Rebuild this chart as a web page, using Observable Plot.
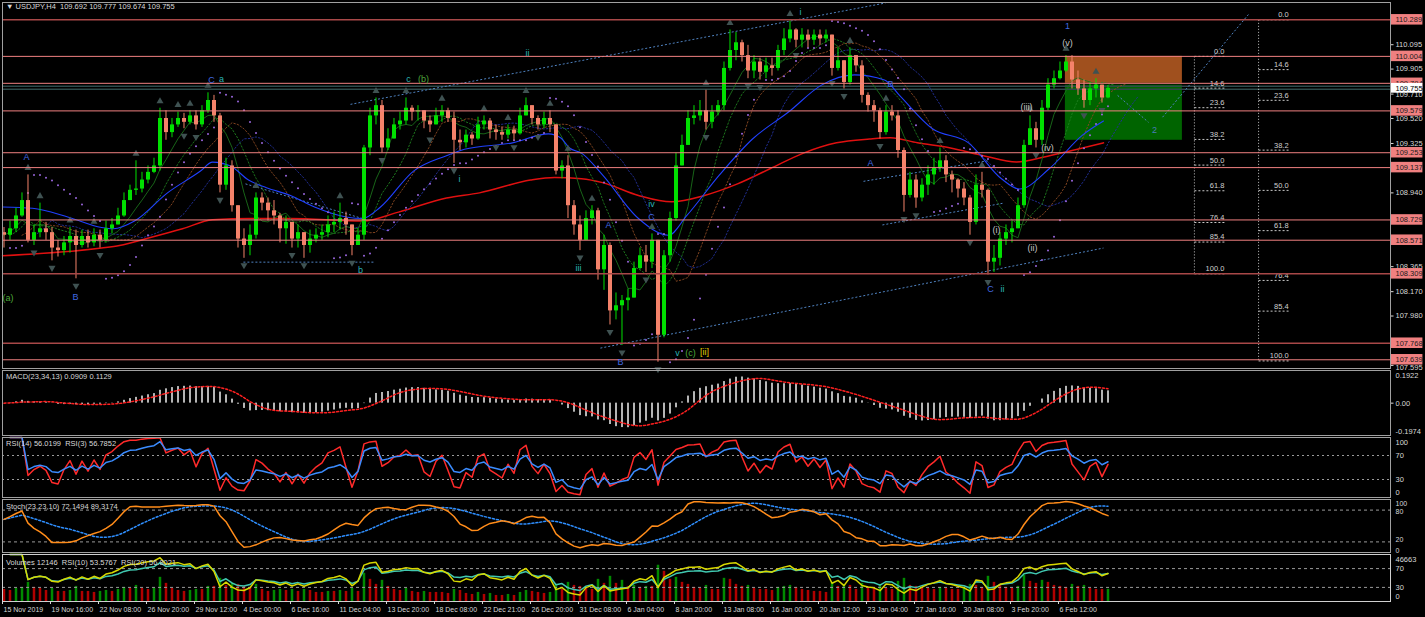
<!DOCTYPE html>
<html>
<head>
<meta charset="utf-8">
<script src="https://cdn.jsdelivr.net/npm/d3@7"></script>
<script src="https://cdn.jsdelivr.net/npm/@observablehq/plot@0.6"></script>
<style>
  html, body { margin:0; padding:0; background:#000; }
  #wrap { position:relative; width:1425px; height:617px; background:#000; overflow:hidden; font-family:"Liberation Sans", Arial, sans-serif; }
  #wrap svg { position:absolute; left:0; }
  .hdr { position:absolute; left:6px; color:#d8d8d8; font-size:7.5px; white-space:pre; line-height:10px; }
</style>
</head>
<body>
<div id="wrap"></div>
<script>
// ---------- DATA (one candle = two H4 bars) ----------
const firstOpen = 108.63;
const close = [
108.61,108.66,108.76,108.88,108.57,108.63,108.66,108.63,108.51,108.49,
108.55,108.60,108.53,108.60,108.55,108.61,108.57,108.66,108.69,108.76,
108.88,108.96,108.97,109.04,109.10,109.15,109.52,109.41,109.47,109.52,
109.49,109.54,109.47,109.58,109.66,109.54,109.00,109.15,108.84,108.58,
108.53,108.61,108.90,108.86,108.80,108.76,108.66,108.71,108.58,108.63,
108.53,108.58,108.61,108.63,108.69,108.71,108.74,108.69,108.53,108.61,
109.29,109.54,109.62,109.29,109.36,109.47,109.50,109.60,109.57,109.58,
109.50,109.47,109.54,109.58,109.52,109.35,109.33,109.39,109.36,109.47,
109.50,109.43,109.41,109.39,109.43,109.40,109.54,109.62,109.52,109.47,
109.52,109.47,109.11,109.15,108.84,108.69,108.57,108.74,108.80,108.34,
108.53,108.02,108.06,108.10,108.12,108.35,108.45,108.40,108.57,107.83,
108.45,108.74,109.15,109.31,109.52,109.54,109.58,109.49,109.57,109.62,
109.91,110.05,110.11,110.01,109.89,109.96,109.88,109.93,109.91,110.05,
110.14,110.21,110.13,110.17,110.13,110.17,110.14,110.17,109.91,109.97,
109.80,110.01,109.93,109.70,109.62,109.58,109.41,109.57,109.54,109.27,
108.92,109.04,108.90,109.00,109.08,109.13,109.19,109.08,109.04,108.97,
108.90,108.71,109.00,108.96,108.40,108.43,108.58,108.63,108.66,108.84,
109.31,109.44,109.35,109.60,109.78,109.83,109.89,109.96,109.82,109.75,
109.66,109.75,109.78,109.68,109.755];
const high = [
108.67,108.72,108.82,108.94,109.08,108.69,108.86,108.71,108.67,108.57,
108.60,108.67,108.65,108.65,108.65,108.66,108.65,108.72,108.74,108.82,
108.94,109.00,109.19,109.10,109.15,109.21,109.60,109.58,109.52,109.57,
109.56,109.58,109.58,109.62,109.72,109.70,109.56,109.21,109.19,108.84,
108.66,108.69,108.94,108.94,108.90,108.88,108.78,108.76,108.71,108.69,
108.63,108.65,108.66,108.69,108.76,108.79,108.86,108.79,108.69,108.66,
109.31,109.60,109.68,109.66,109.44,109.52,109.57,109.68,109.62,109.62,
109.57,109.54,109.60,109.62,109.60,109.57,109.43,109.43,109.41,109.53,
109.54,109.52,109.47,109.45,109.47,109.46,109.60,109.68,109.62,109.54,
109.57,109.58,109.47,109.19,109.23,108.88,108.76,108.80,108.84,108.82,
108.61,108.55,108.16,108.14,108.19,108.40,108.51,108.53,108.62,108.57,
108.49,108.79,109.25,109.39,109.58,109.62,109.66,109.74,109.62,109.66,
109.96,110.21,110.19,110.13,110.09,110.01,109.99,109.99,109.99,110.09,
110.22,110.28,110.22,110.22,110.21,110.21,110.21,110.21,110.17,110.07,
109.97,110.07,110.01,109.97,109.72,109.66,109.60,109.62,109.62,109.58,
109.29,109.10,109.08,109.05,109.15,109.21,109.29,109.23,109.11,109.05,
109.02,108.92,109.08,109.10,108.97,108.53,108.63,108.69,108.72,108.90,
109.35,109.54,109.49,109.66,109.83,109.89,109.96,110.01,110.01,109.89,
109.82,109.80,109.83,109.78,109.777];
const low = [
108.51,108.57,108.63,108.75,108.55,108.53,108.59,108.57,108.41,108.44,
108.45,108.47,108.27,108.51,108.51,108.52,108.51,108.55,108.62,108.69,
108.75,108.88,108.92,108.94,109.01,109.09,109.11,109.35,109.37,109.45,
109.44,109.47,109.43,109.45,109.56,109.49,108.94,108.96,108.79,108.51,
108.43,108.45,108.58,108.80,108.72,108.69,108.55,108.54,108.51,108.51,
108.43,108.47,108.55,108.57,108.59,108.63,108.65,108.61,108.45,108.53,
108.57,109.23,109.47,109.25,109.27,109.36,109.43,109.47,109.50,109.50,
109.44,109.41,109.47,109.49,109.49,109.17,109.27,109.29,109.31,109.35,
109.43,109.36,109.35,109.35,109.36,109.35,109.39,109.54,109.47,109.43,
109.44,109.41,109.08,109.05,108.74,108.61,108.49,108.60,108.69,108.26,
108.18,107.91,107.95,107.75,108.02,108.12,108.34,108.32,108.35,107.62,
107.81,108.40,108.72,109.15,109.31,109.47,109.50,109.43,109.44,109.54,
109.58,109.89,109.97,109.96,109.83,109.83,109.82,109.83,109.85,109.89,
110.01,110.11,110.07,110.07,110.07,110.09,110.09,110.11,109.85,109.89,
109.75,109.78,109.88,109.64,109.57,109.49,109.36,109.39,109.50,109.21,
108.79,108.90,108.82,108.87,108.92,109.00,109.10,109.02,108.94,108.90,
108.84,108.61,108.69,108.90,108.30,108.32,108.37,108.53,108.55,108.66,
108.82,109.31,109.29,109.31,109.58,109.75,109.82,109.88,109.75,109.70,
109.60,109.62,109.68,109.64,109.674];
const volume = [
12000,11000,13000,14000,19000,14000,13000,11000,13000,10000,
10000,11000,15000,10000,10000,9000,10000,11000,10000,12000,
14000,13000,16000,13000,12000,13000,24000,18000,13000,11000,
10000,11000,12000,12000,15000,15000,23000,16000,18000,17000,
15000,14000,17000,12000,10000,11000,12000,11000,12000,10000,
12000,11000,9000,9000,10000,10000,11000,10000,13000,10000,
28000,22000,17000,21000,15000,12000,11000,13000,10000,9000,
10000,9000,9000,9000,8000,12000,11000,8000,7000,9000,
7000,8000,6000,6000,7000,6000,9000,11000,10000,9000,
8000,9000,17000,12000,19000,16000,15000,13000,12000,22000,
18000,25000,18000,21000,15000,16000,14000,15000,15000,36000,
30000,22000,24000,19000,17000,14000,13000,16000,12000,12000,
23000,22000,17000,15000,16000,13000,12000,12000,11000,14000,
15000,16000,14000,12000,11000,10000,10000,9000,19000,15000,
17000,16000,12000,18000,14000,13000,17000,13000,12000,20000,
23000,16000,15000,14000,13000,12000,14000,13000,12000,12000,
13000,17000,16000,14000,25000,19000,17000,14000,13000,15000,
26000,20000,18000,21000,19000,16000,15000,14000,17000,15000,
16000,13000,12000,12000,12146];

const xLabels = ["15 Nov 2019","19 Nov 16:00","22 Nov 08:00","26 Nov 20:00","29 Nov 12:00","4 Dec 00:00","6 Dec 16:00","11 Dec 04:00","13 Dec 20:00","18 Dec 08:00","22 Dec 21:00","26 Dec 20:00","31 Dec 08:00","6 Jan 04:00","8 Jan 20:00","13 Jan 08:00","16 Jan 00:00","20 Jan 12:00","23 Jan 04:00","27 Jan 16:00","30 Jan 08:00","3 Feb 20:00","6 Feb 12:00"];
const barsPerLabel = 16;

// moving averages (H4 bar index, price)
const redMaBar = [0,33,39,49,60,70,83,96,120,132,148,159,176,184,193,200,212,223,234,245,256,267,278,289,296,305,316,327,338,349,360,367];
const redMaPrice = [108.45,108.51,108.53,108.59,108.66,108.73,108.74,108.74,108.72,108.79,108.90,108.94,109.04,109.06,109.05,109.02,108.92,108.87,108.92,109.01,109.13,109.25,109.33,109.36,109.37,109.33,109.29,109.23,109.18,109.23,109.29,109.33];
const blueMaBar = [0,10,22,33,37,44,55,66,70,76,82,88,96,104,115,120,126,137,148,154,170,182,186,189,193,200,212,222,228,239,250,262,273,284,294,299,310,322,333,339,349,360,367];
const blueMaPrice = [108.83,108.82,108.75,108.67,108.66,108.72,108.94,109.11,109.18,109.15,109.04,108.98,108.92,108.83,108.75,108.74,108.83,109.11,109.23,109.28,109.33,109.40,109.37,109.29,109.25,109.08,108.74,108.61,108.76,109.08,109.36,109.57,109.78,109.86,109.82,109.70,109.44,109.33,109.05,108.97,109.13,109.39,109.50];

const levelsLight = [110.004,109.794,109.579,109.253,109.137,108.729,108.571,107.639];
const levelsDark = [110.289,108.309,107.768];
const bidAsk = [109.772,109.748];
const mainTicks = [110.285,110.095,109.905,109.710,109.520,109.325,109.130,108.940,108.750,108.555,108.365,108.170,107.980,107.785,107.595];
const mainTickLabels = [110.095,109.905,109.710,109.520,109.325,108.940,108.365,108.170,107.980];
const bottomTickLabel = [107.595];

const boxOrange = [{b1:354.3, b2:393.3, p1:110.004, p2:109.794}];
const boxGreen = [{b1:354.3, b2:393.3, p1:109.78, p2:109.35}];

const trendLines = [
 {b1:116, p1:109.63, b2:294.3, p2:110.42},
 {b1:199.3, p1:107.73, b2:367, p2:108.51},
 {b1:80.3, p1:108.40, b2:124.3, p2:108.40},
 {b1:81, p1:109.01, b2:120, p2:108.74},
 {b1:287, p1:109.03, b2:328.3, p2:109.19},
 {b1:293.3, p1:108.69, b2:333.7, p2:108.86},
 {b1:371.7, p1:109.70, b2:382, p2:109.49},
 {b1:386.7, p1:109.53, b2:415.3, p2:110.33}
];

const fibLevels = [0, 14.6, 23.6, 38.2, 50.0, 61.8, 76.4, 85.4, 100.0];
const fibSets = [
 {bar0:418.7, bar1:428.7, hi:110.289, lo:107.63},
 {bar0:397.3, bar1:407.3, hi:110.004, lo:108.309}
];

const waveLabels = [
 {bar:1.8, price:108.12, text:"(a)", kind:"green"},
 {bar:8, price:109.22, text:"A", kind:"blue"},
 {bar:24.3, price:108.13, text:"B", kind:"blue"},
 {bar:69.7, price:109.82, text:"C", kind:"blue"},
 {bar:73, price:109.83, text:"a", kind:"teal"},
 {bar:135.3, price:109.83, text:"c", kind:"teal"},
 {bar:140.3, price:109.83, text:"(b)", kind:"green"},
 {bar:119.3, price:108.34, text:"b", kind:"teal"},
 {bar:152.3, price:109.05, text:"i", kind:"teal"},
 {bar:175, price:110.03, text:"ii", kind:"teal"},
 {bar:192, price:108.35, text:"iii", kind:"teal"},
 {bar:202, price:108.69, text:"A", kind:"blue"},
 {bar:216.3, price:108.85, text:"iv", kind:"teal"},
 {bar:216.3, price:108.75, text:"C", kind:"blue"},
 {bar:206, price:107.62, text:"B", kind:"blue"},
 {bar:225, price:107.69, text:"v", kind:"teal"},
 {bar:229.3, price:107.69, text:"(c)", kind:"green"},
 {bar:234, price:107.70, text:"[ii]", kind:"yellow"},
 {bar:266, price:110.35, text:"i", kind:"teal"},
 {bar:296, price:109.79, text:"B", kind:"blue"},
 {bar:289.3, price:109.17, text:"A", kind:"blue"},
 {bar:329.3, price:108.19, text:"C", kind:"blue"},
 {bar:333.3, price:108.19, text:"ii", kind:"teal"},
 {bar:331.3, price:108.65, text:"(i)", kind:"grey"},
 {bar:343.3, price:108.51, text:"(ii)", kind:"grey"},
 {bar:341.3, price:109.61, text:"(iii)", kind:"grey"},
 {bar:348.3, price:109.29, text:"(iv)", kind:"grey"},
 {bar:355, price:110.11, text:"(v)", kind:"grey"},
 {bar:355, price:110.24, text:"1", kind:"blue"},
 {bar:384, price:109.43, text:"2", kind:"steel"}
];
const kindColor = {blue:"#4169e1", teal:"#2ab3b3", green:"#4fa83a", grey:"#c4c4c4", yellow:"#e6d200", steel:"#4a7ab8"};

// ---------- derived series (indicators computed from the candles) ----------
const N = close.length;
const idx = d3.range(N);
const bx = idx.map(j => 2 * j + 0.5);
const open = idx.map(j => j === 0 ? firstOpen : close[j - 1]);
const XMAX = 462.67;

function sma(arr, k) {
  return arr.map((_, i) => {
    const w = arr.slice(Math.max(0, i - k + 1), i + 1).filter(v => v != null);
    return w.length ? d3.mean(w) : null;
  });
}
function ema(arr, n) {
  const a = 2 / (n + 1); let e = arr[0];
  return arr.map((v, i) => i === 0 ? e : (e = e + a * (v - e)));
}
function rsi(arr, n) {
  let ag = 0, al = 0; const out = [null];
  for (let i = 1; i < arr.length; i++) {
    const ch = arr[i] - arr[i - 1], g = Math.max(ch, 0), l = Math.max(-ch, 0);
    if (i <= n) { ag += (g - ag) / i; al += (l - al) / i; }
    else { ag = (ag * (n - 1) + g) / n; al = (al * (n - 1) + l) / n; }
    out.push(al === 0 ? 100 : 100 - 100 / (1 + ag / al));
  }
  return out;
}
function psar(hi, lo, step, maxAf) {
  const out = [null];
  let up = hi[1] >= hi[0], af = step, ep = up ? hi[0] : lo[0], sar = up ? lo[0] : hi[0];
  for (let i = 1; i < hi.length; i++) {
    sar = sar + af * (ep - sar);
    if (up) {
      sar = Math.min(sar, lo[i - 1], lo[Math.max(0, i - 2)]);
      if (lo[i] < sar) { up = false; sar = ep; ep = lo[i]; af = step; }
      else if (hi[i] > ep) { ep = hi[i]; af = Math.min(af + step, maxAf); }
    } else {
      sar = Math.max(sar, hi[i - 1], hi[Math.max(0, i - 2)]);
      if (hi[i] > sar) { up = true; sar = ep; ep = hi[i]; af = step; }
      else if (lo[i] < ep) { ep = lo[i]; af = Math.min(af + step, maxAf); }
    }
    out.push(sar);
  }
  return out;
}
const shifted = (arr, shift) => idx.map(j => ({x: bx[j] + 2 * shift, y: arr[j]}));

const maGreen = shifted(sma(close, 6), 0);
const maGreenDash = shifted(sma(close, 9), 1);
const maBrownDash = shifted(sma(close, 11), 3);
const maNavyDash = shifted(sma(close, 15), 5);
const sarVals = psar(high, low, 0.02, 0.2);
const upFr = idx.filter(j => j >= 1 && j < N - 1 && high[j] > high[j-1] && high[j] >= high[j+1]);
const dnFr = idx.filter(j => j >= 1 && j < N - 1 && low[j] < low[j-1] && low[j] <= low[j+1]);

const emaF = ema(close, 11.5), emaS = ema(close, 17);
const macd = idx.map(j => emaF[j] - emaS[j]);
const macdSig = sma(macd, 6);
const rsiFast = rsi(close, 3), rsiSlow = rsi(close, 7);
const K = 12, SL = 5, D = 12;
const llv = idx.map(i => d3.min(low.slice(Math.max(0, i - K + 1), i + 1)));
const hhv = idx.map(i => d3.max(high.slice(Math.max(0, i - K + 1), i + 1)));
const stMain = idx.map(i => { let a = 0, b = 0; for (let s = Math.max(0, i - SL + 1); s <= i; s++) { a += close[s] - llv[s]; b += hhv[s] - llv[s]; } return b > 0 ? 100 * a / b : 50; });
const stSig = sma(stMain, D);
const vRsiA = rsi(close, 7), vRsiB = rsi(close, 12);
const volUp = idx.filter(j => j > 0 && volume[j] > volume[j - 1]);
const volDn = idx.filter(j => !(j > 0 && volume[j] > volume[j - 1]));
const fibRows = fibSets.flatMap(s => fibLevels.map(l => ({...s, l, p: s.hi - (s.hi - s.lo) * l / 100})));

// ---------- drawing ----------
const FONT = "'Liberation Sans', Arial, sans-serif";
const TXT = "#d8d8d8";
const wrap = document.getElementById("wrap");
const bull = idx.filter(j => close[j] >= open[j]);
const bear = idx.filter(j => close[j] < open[j]);

function panel(top, height, mt, mb, ydomain, marks) {
  const svg = Plot.plot({
    width: 1425, height, marginLeft: 2, marginRight: 35, marginTop: mt, marginBottom: mb,
    x: {domain: [0, XMAX], axis: null}, y: {domain: ydomain, axis: null},
    style: {background: "transparent", color: TXT, fontFamily: FONT, fontSize: "7.5px", overflow: "visible"},
    marks
  });
  svg.style.top = top + "px";
  wrap.appendChild(svg);
  return svg;
}
const rightText = (vals, opts = {}) => Plot.text(vals, {x: XMAX, y: d => d.v, text: d => d.t, dx: 5, textAnchor: "start", fill: TXT, fontSize: 7.5, ...opts});
const rightTick = vals => Plot.link(vals, {x1: XMAX, x2: XMAX + 1, y1: d => d, y2: d => d, stroke: TXT});

// main price panel
panel(0, 369, 2, 1, [107.571, 110.424], [
  Plot.rect(boxOrange, {x1: "b1", x2: "b2", y1: "p1", y2: "p2", fill: "#a0501e"}),
  Plot.rect(boxGreen, {x1: "b1", x2: "b2", y1: "p1", y2: "p2", fill: "#006400"}),
  Plot.ruleY(bidAsk, {stroke: "#2e4a4a", strokeWidth: 1.5}),
  Plot.link(trendLines, {x1: "b1", y1: "p1", x2: "b2", y2: "p2", stroke: "#4f82c0", strokeDasharray: "2,2"}),
  Plot.link(fibSets, {x1: "bar0", x2: "bar0", y1: "hi", y2: "lo", stroke: "#c8c8c8", strokeDasharray: "1,2"}),
  Plot.link(fibRows, {x1: "bar0", x2: "bar1", y1: "p", y2: "p", stroke: "#c8c8c8", strokeDasharray: "2,2"}),
  Plot.text(fibRows, {x: "bar1", y: "p", text: d => d.l.toFixed(1), textAnchor: "end", dy: -5, fill: "#d0d0d0", fontSize: 7.5}),
  Plot.line(redMaBar.map((b, i) => ({b, p: redMaPrice[i]})), {x: "b", y: "p", stroke: "#e01010", strokeWidth: 1.5, curve: "monotone-x"}),
  Plot.line(maNavyDash, {x: "x", y: "y", stroke: "#22309a", strokeWidth: 0.9, strokeDasharray: "1.5,2"}),
  Plot.line(maBrownDash, {x: "x", y: "y", stroke: "#8b4a22", strokeWidth: 0.9, strokeDasharray: "1.5,2"}),
  Plot.line(maGreenDash, {x: "x", y: "y", stroke: "#1f7f1f", strokeWidth: 0.9, strokeDasharray: "1.5,2"}),
  Plot.line(maGreen, {x: "x", y: "y", stroke: "#1b6f1b", strokeWidth: 0.9}),
  Plot.line(blueMaBar.map((b, i) => ({b, p: blueMaPrice[i]})), {x: "b", y: "p", stroke: "#2040ff", strokeWidth: 1.1, curve: "monotone-x"}),
  Plot.dot(idx.filter(j => sarVals[j] != null), {x: j => bx[j], y: j => sarVals[j], r: 1, fill: "#9966dd", stroke: null}),
  Plot.ruleX(bull, {x: j => bx[j], y1: j => Math.min(low[j], open[j]), y2: j => Math.max(high[j], close[j]), stroke: "#00e000"}),
  Plot.ruleX(bear, {x: j => bx[j], y1: j => Math.min(low[j], close[j]), y2: j => Math.max(high[j], open[j]), stroke: "#f4826a"}),
  Plot.ruleX(bull, {x: j => bx[j], y1: j => open[j], y2: j => close[j], stroke: "#00e000", strokeWidth: 4}),
  Plot.ruleX(bear, {x: j => bx[j], y1: j => open[j], y2: j => close[j], stroke: "#f4826a", strokeWidth: 4}),
  Plot.dot(upFr, {x: j => bx[j], y: j => high[j], symbol: "triangle", r: 2.6, dy: -7, fill: "#3f5252", stroke: null}),
  Plot.dot(dnFr, {x: j => bx[j], y: j => low[j], symbol: "triangle", rotate: 180, r: 2.6, dy: 7, fill: "#3f5252", stroke: null}),
  Plot.ruleY(levelsLight, {stroke: "#f08080"}),
  Plot.ruleY(levelsDark, {stroke: "#a84848", strokeWidth: 1.5}),
  ...Object.keys(kindColor).map(k => Plot.text(waveLabels.filter(d => d.kind === k), {x: "bar", y: "price", text: "text", fill: kindColor[k], fontSize: 9})),
  rightTick(mainTicks),
  rightText(mainTickLabels.map(v => ({v, t: v.toFixed(3)}))),
  Plot.rect(levelsLight.concat(levelsDark), {x1: XMAX + 0.33, x2: XMAX + 10.8, y1: d => d - 0.041, y2: d => d + 0.041, fill: "#f08080"}),
  rightText(levelsLight.concat(levelsDark).map(v => ({v, t: v.toFixed(3)})), {fill: "#1a1a1a"}),
  rightText(bottomTickLabel.map(v => ({v, t: v.toFixed(3)})), {dy: 2}),
  Plot.rect([close[N - 1]], {x1: XMAX + 0.33, x2: XMAX + 10.8, y1: d => d - 0.038, y2: d => d + 0.038, fill: "#ffffff"}),
  rightText([{v: close[N - 1], t: close[N - 1].toFixed(3)}], {fill: "#000"}),
  Plot.frame({stroke: "#a0a0a0"})
]);

// MACD panel
panel(369, 67, 1, 1, [-0.225, 0.227], [
  Plot.ruleX(idx, {x: j => bx[j], y1: 0, y2: j => macd[j], stroke: "#b4b4b4", strokeWidth: 2, clip: true}),
  Plot.line(idx, {x: j => bx[j], y: j => macdSig[j], stroke: "#ff2020", strokeDasharray: "2,2", clip: true}),
  rightTick([0]),
  rightText([{v: 0.1922, t: "0.1922"}, {v: 0, t: "0.00"}, {v: -0.1974, t: "-0.1974"}]),
  Plot.frame({stroke: "#a0a0a0"})
]);

// RSI panel
panel(436, 62, 1, 1, [0, 100], [
  Plot.ruleY([70, 30], {stroke: "#9a9a9a", strokeDasharray: "2,3"}),
  Plot.line(idx, {x: j => bx[j], y: j => rsiFast[j], stroke: "#ff2a2a"}),
  Plot.line(idx, {x: j => bx[j], y: j => rsiSlow[j], stroke: "#3b8cff"}),
  rightText([{v: 70, t: "70"}, {v: 30, t: "30"}]),
  rightText([{v: 100, t: "100"}], {dy: 5}),
  rightText([{v: 0, t: "0"}], {dy: -5}),
  Plot.frame({stroke: "#a0a0a0"})
]);

// Stochastic panel
panel(498, 55, 1, 1, [0, 100], [
  Plot.ruleY([80, 20], {stroke: "#9a9a9a", strokeDasharray: "3,3"}),
  Plot.line(idx, {x: j => bx[j], y: j => stSig[j], stroke: "#2f8fff", strokeDasharray: "2,2"}),
  Plot.line(idx, {x: j => bx[j], y: j => stMain[j], stroke: "#ff8c1a"}),
  rightText([{v: 80, t: "80"}], {dy: 2, fontSize: 7}),
  rightText([{v: 20, t: "20"}], {dy: -2, fontSize: 7}),
  rightText([{v: 100, t: "100"}], {dy: 4, fontSize: 7}),
  rightText([{v: 0, t: "0"}], {dy: -2, fontSize: 7}),
  Plot.frame({stroke: "#a0a0a0"})
]);

// Volumes panel (bars) + RSI lines overlay with x axis
panel(553, 64, 1, 16, [0, 46663], [
  Plot.ruleX(volUp, {x: j => bx[j], y1: 0, y2: j => volume[j], stroke: "#008a00", strokeWidth: 2.5}),
  Plot.ruleX(volDn, {x: j => bx[j], y1: 0, y2: j => volume[j], stroke: "#b00000", strokeWidth: 2.5})
]);
const xTickBars = xLabels.map((_, k) => k * barsPerLabel);
panel(553, 64, 1, 16, [0, 100], [
  Plot.ruleY([70, 30], {stroke: "#9a9a9a", strokeDasharray: "3,3"}),
  Plot.line(idx, {x: j => bx[j], y: j => vRsiB[j], stroke: "#40c8b0"}),
  Plot.line(idx, {x: j => bx[j], y: j => vRsiA[j], stroke: "#d8d800"}),
  rightText([{v: 70, t: "70"}, {v: 30, t: "30"}]),
  rightText([{v: 100, t: "46663"}], {dy: 5}),
  rightText([{v: 0, t: "0"}], {dy: -5}),
  Plot.frame({stroke: "#d0d0d0"}),
  Plot.ruleX(xTickBars, {x: d => d, y1: 0, y2: -6.4, stroke: TXT}),
  Plot.text(xTickBars, {x: d => d, y: 0, text: d => xLabels[d / barsPerLabel], dy: 8, dx: 1, textAnchor: "start", fill: TXT, fontSize: 7})
]);

// headers
const hdrs = [
  {top: 2, t: "▼ USDJPY,H4  109.692 109.777 109.674 109.755"},
  {top: 372, t: "MACD(23,34,13) 0.0909 0.1129"},
  {top: 439, t: "RSI(14) 56.0199  RSI(3) 56.7852"},
  {top: 502, t: "Stoch(23,23,10) 72.1494 89.3174"},
  {top: 558, t: "Volumes 12146  RSI(10) 53.5767  RSI(20) 56.8021"}
];
hdrs.forEach(h => { const d = document.createElement("div"); d.className = "hdr"; d.style.top = h.top + "px"; d.textContent = h.t; wrap.appendChild(d); });
</script>
</body>
</html>
